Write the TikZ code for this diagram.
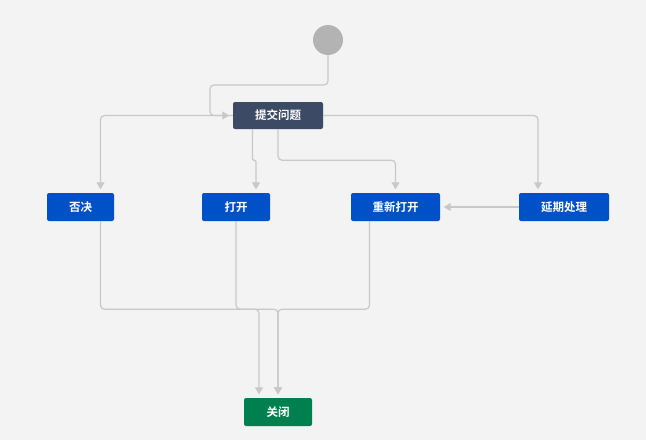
\documentclass[tikz,border=0pt]{standalone}
\usepackage{fontspec}
\newfontfamily\cjk{Noto Sans CJK SC}[BoldFont={Noto Sans CJK SC Bold}]
\usetikzlibrary{arrows.meta,calc}
\definecolor{bg}{HTML}{F3F3F3}
\definecolor{dark}{HTML}{3D4A66}
\definecolor{blue}{HTML}{0050C8}
\definecolor{green}{HTML}{00804F}
\definecolor{linec}{HTML}{C8C8C8}
\definecolor{startc}{HTML}{B3B3B3}
\tikzset{
  box/.style={rectangle, rounded corners=2pt, minimum height=28pt, text=white,
    font=\cjk\bfseries\fontsize{11.5}{13}\selectfont, inner sep=0pt},
  conn/.style={draw=linec, line width=1.2pt, rounded corners=4pt,
    -{Triangle[width=8pt,length=7pt,fill=linec]}, shorten >=3.5pt},
}
\begin{document}
\begin{tikzpicture}[x=1pt,y=-1pt]
\fill[bg] (0,0) rectangle (646,440);
\useasboundingbox (0,0) rectangle (646,440);

\node[circle, fill=startc, minimum size=30pt, inner sep=0pt] (start) at (328,40) {};
\node[box, fill=dark, minimum width=90pt, minimum height=27pt] (tj) at (278,115.5) {提交问题};
\node[box, fill=blue, minimum width=67pt] (fj) at (80.5,207) {否决};
\node[box, fill=blue, minimum width=68pt] (dk) at (236,207) {打开};
\node[box, fill=blue, minimum width=89pt] (cx) at (395.5,207) {重新打开};
\node[box, fill=blue, minimum width=90pt] (yq) at (564,207) {延期处理};
\node[box, fill=green, minimum width=68pt] (gb) at (278,412) {关闭};

% start
\draw[conn] (start.south) |- (210,85) |- (tj.west);
% submit -> reject
\draw[conn] (tj.west) -| ([xshift=20pt]fj.north);
% submit -> open
\draw[conn, rounded corners=1.2pt] ([xshift=-25.5pt]tj.south) -- ++(0,31) -| ([xshift=20pt]dk.north);
% submit -> reopen
\draw[conn] (tj.south) -- ++(0,31) -| (cx.north);
% submit -> postpone
\draw[conn] (tj.east) -| ([xshift=-26pt]yq.north);
% postpone -> reopen
\draw[conn] (yq.west) -- (cx.east);
% -> close
\draw[conn] ([xshift=20pt]fj.south) -- ++(0,88) -| ([xshift=-19pt]gb.north);
\draw[conn] (dk.south) -- ++(0,88) -| (gb.north);
\draw[conn] ([xshift=-26pt]cx.south) -- ++(0,88) -| (gb.north);
\end{tikzpicture}
\end{document}
